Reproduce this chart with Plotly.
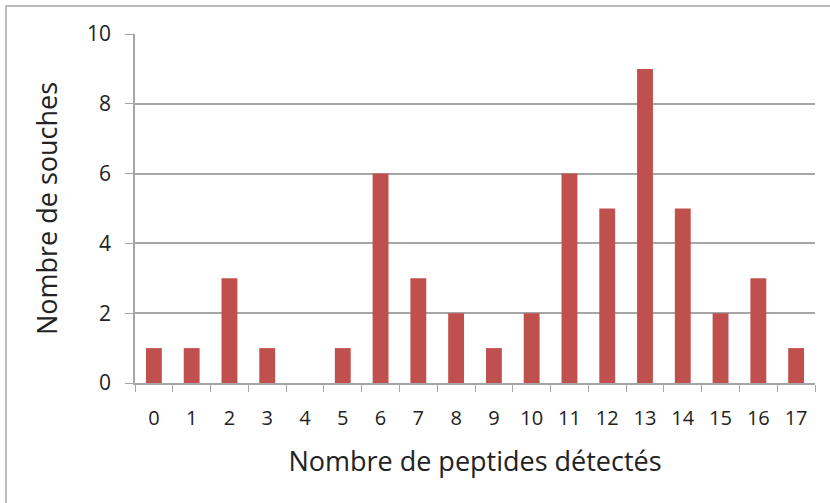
import plotly.graph_objects as go

categories = [str(i) for i in range(18)]
values = [1, 1, 3, 1, 0, 1, 6, 3, 2, 1, 2, 6, 5, 9, 5, 2, 3, 1]
y_ticks = [0, 2, 4, 6, 8, 10]

W, H = 830, 503
L, R, T, B = 135, 15, 34, 120
pw, ph = W - L - R, H - T - B

fig = go.Figure(go.Bar(x=categories, y=values, marker=dict(color="#C0504D", line=dict(width=0)),
                       width=0.42))

font = "Open Sans, Liberation Sans, sans-serif"
fig.update_layout(
    width=W, height=H,
    margin=dict(l=L, r=R, t=T, b=B, autoexpand=False),
    paper_bgcolor="white", plot_bgcolor="white",
    showlegend=False,
    font=dict(family=font, color="#222222"),
    xaxis=dict(
        type="category", range=[-0.5, 17.5], automargin=False,
        showline=True, linecolor="#A6A6A6", linewidth=1.5,
        ticks="outside", ticklen=7, tickcolor="#A6A6A6", tickson="boundaries",
        tickfont=dict(size=20), showgrid=False, ticklabelstandoff=16,
        title=dict(text="Nombre de peptides détectés", font=dict(size=27), standoff=22),
    ),
    yaxis=dict(
        range=[0, 10], tickvals=y_ticks, automargin=False,
        showline=True, linecolor="#A6A6A6", linewidth=1.5,
        ticks="outside", ticklen=8, tickcolor="#A6A6A6",
        showgrid=True, gridcolor="#A6A6A6", gridwidth=1.5,
        tickfont=dict(size=21), zeroline=False, ticklabelstandoff=10,
        title=dict(text="Nombre de souches", font=dict(size=27), standoff=22),
    ),
)

x0 = (6 - L) / pw
x1 = (835 - L) / pw
y1 = (H - B - 6) / ph
y0 = (H - B - 510) / ph
fig.add_shape(type="rect", xref="paper", yref="paper", x0=x0, x1=x1, y0=y0, y1=y1,
              line=dict(color="#A6A6A6", width=1.5), layer="above")

fig.write_html("out.html", config={"displayModeBar": False},
               post_script="document.body.style.margin='0px';")
